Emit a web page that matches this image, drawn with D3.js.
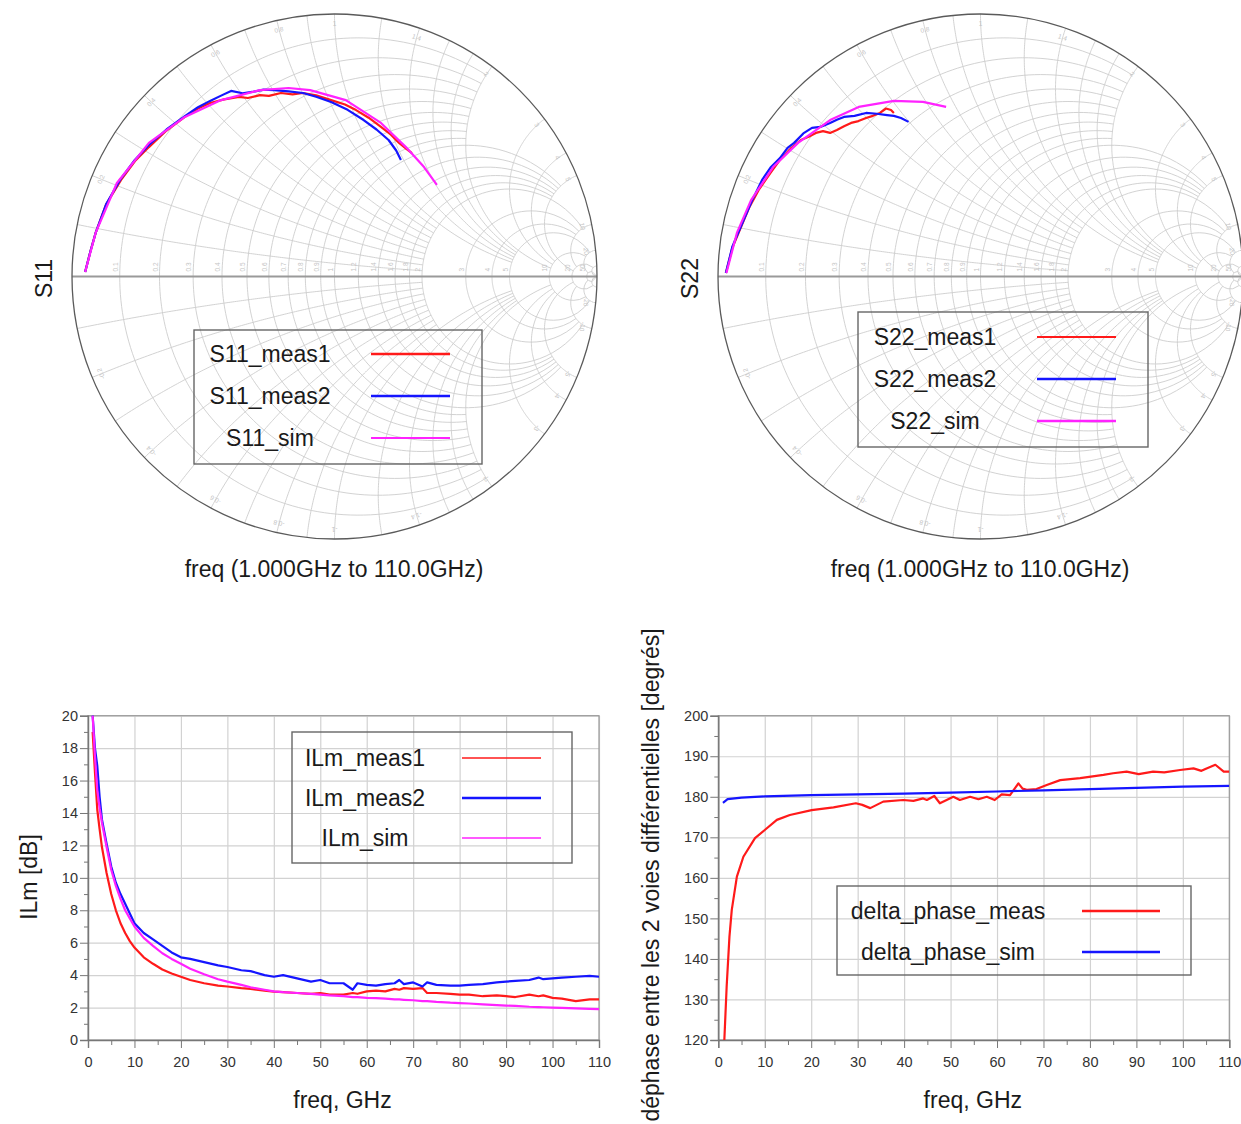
<!DOCTYPE html>
<html><head><meta charset="utf-8">
<script src="https://cdnjs.cloudflare.com/ajax/libs/d3/7.8.5/d3.min.js"></script>
<style>
body{margin:0;background:#fff}
text{font-family:"Liberation Sans",Arial,sans-serif}
</style></head>
<body><svg id="c" width="1241" height="1124"></svg>
<script>
// ---------------- DATA ----------------
// S11 (reflection coefficient, real / imag)
const s11Meas1Re = [-0.950,-0.930,-0.910,-0.870,-0.813,-0.760,-0.707,-0.640,-0.570,-0.520,-0.474,-0.420,-0.364,-0.330,-0.284,-0.250,-0.204,-0.160,-0.120,-0.070,-0.013,0.040,0.082,0.130,0.177,0.215,0.246,0.275,0.295];
const s11Meas1Im = [0.017,0.095,0.166,0.275,0.368,0.440,0.493,0.556,0.608,0.640,0.661,0.675,0.684,0.680,0.691,0.688,0.699,0.694,0.699,0.690,0.672,0.655,0.634,0.605,0.570,0.540,0.509,0.485,0.470];
const s11Meas2Re = [-0.950,-0.930,-0.910,-0.870,-0.817,-0.760,-0.707,-0.640,-0.570,-0.520,-0.474,-0.430,-0.394,-0.350,-0.314,-0.270,-0.230,-0.175,-0.120,-0.070,-0.013,0.050,0.111,0.160,0.206,0.235,0.253];
const s11Meas2Im = [0.017,0.095,0.166,0.275,0.368,0.445,0.501,0.560,0.611,0.645,0.669,0.690,0.707,0.698,0.703,0.712,0.710,0.705,0.699,0.685,0.665,0.635,0.596,0.560,0.520,0.480,0.444];
const s11SimRe = [-0.950,-0.910,-0.829,-0.707,-0.570,-0.432,-0.284,-0.175,-0.093,0.043,0.177,0.272,0.341,0.390];
const s11SimIm = [0.017,0.166,0.356,0.509,0.608,0.672,0.710,0.718,0.710,0.672,0.585,0.493,0.417,0.349];

// S22
const s22Meas1Re = [-0.970,-0.945,-0.912,-0.880,-0.845,-0.800,-0.764,-0.720,-0.684,-0.655,-0.627,-0.600,-0.573,-0.547,-0.520,-0.493,-0.465,-0.436,-0.410,-0.383,-0.360,-0.341,-0.330];
const s22Meas1Im = [0.013,0.110,0.189,0.265,0.330,0.395,0.444,0.490,0.520,0.532,0.547,0.554,0.547,0.558,0.572,0.585,0.592,0.604,0.612,0.623,0.640,0.634,0.623];
const s22Meas2Re = [-0.970,-0.945,-0.912,-0.870,-0.832,-0.800,-0.764,-0.735,-0.710,-0.675,-0.642,-0.610,-0.573,-0.545,-0.520,-0.480,-0.436,-0.395,-0.356,-0.330,-0.303,-0.274];
const s22Meas2Im = [0.013,0.115,0.192,0.290,0.368,0.415,0.451,0.490,0.509,0.545,0.566,0.570,0.585,0.598,0.608,0.612,0.623,0.620,0.615,0.612,0.604,0.589];
const s22SimRe = [-0.968,-0.928,-0.874,-0.790,-0.695,-0.573,-0.464,-0.330,-0.219,-0.131];
const s22SimIm = [0.013,0.166,0.291,0.417,0.509,0.596,0.646,0.669,0.665,0.646];

// ILm [dB] vs freq [GHz]
const ilmFreq  = [1,1.5,2,2.5,3,4,5,6,7,8,9,10,12,14,16,18,20,22,25,28,30,33,35,38,40,42,45,48,50,52,55,57,58,60,62,64,66,67,68,70,72,73,75,78,80,82,85,88,90,92,95,97,98,100,102,105,108,110];
const ilmMeas1 = [19.0,16.5,14.2,13.0,11.9,10.3,9.0,8.0,7.2,6.6,6.1,5.7,5.1,4.7,4.35,4.1,3.9,3.7,3.5,3.35,3.3,3.2,3.15,3.05,2.98,2.95,2.9,2.85,2.9,2.8,2.8,2.9,2.85,3.0,3.05,3.0,3.15,3.1,3.2,3.15,3.2,2.9,2.9,2.85,2.8,2.8,2.7,2.75,2.7,2.65,2.8,2.7,2.75,2.6,2.55,2.4,2.5,2.5];
const ilmMeas2 = [20.0,18.0,16.9,15.0,13.6,12.1,10.7,9.7,9.0,8.4,7.8,7.2,6.6,6.2,5.8,5.4,5.1,5.0,4.8,4.6,4.5,4.3,4.25,4.0,3.9,4.0,3.8,3.6,3.7,3.5,3.5,3.1,3.5,3.4,3.35,3.45,3.5,3.7,3.45,3.55,3.3,3.55,3.4,3.35,3.35,3.4,3.45,3.55,3.6,3.65,3.7,3.85,3.75,3.8,3.85,3.9,3.95,3.9];
const ilmSim   = [20.0,17.5,15.4,14.3,13.4,11.9,10.5,9.5,8.7,8.0,7.5,7.0,6.3,5.8,5.35,5.0,4.7,4.4,4.05,3.75,3.6,3.4,3.25,3.1,3.0,2.95,2.9,2.85,2.8,2.75,2.7,2.65,2.65,2.6,2.58,2.55,2.5,2.5,2.48,2.45,2.4,2.4,2.35,2.3,2.28,2.25,2.2,2.15,2.12,2.1,2.05,2.03,2.02,2.0,1.98,1.95,1.92,1.9];

// delta phase [deg] vs freq [GHz]
const phMeasFreq = [1.0,1.3,1.8,2.4,2.9,4.0,5.4,7.9,10.0,12.6,15.4,20.1,24.8,29.6,31.0,32.7,35.5,39.8,42.0,44.1,44.9,46.5,47.7,50.6,52.0,54.2,56.0,57.8,59.5,61.0,62.8,64.6,65.5,66.4,68.5,70.7,73.6,77.9,82.9,85.0,87.9,90.5,93.6,96.0,99.4,102.3,104.0,105.1,107.0,108.8,110];
const phMeas     = [112,120,133.2,145.5,152.1,160.3,165.2,169.8,171.8,174.3,175.5,176.7,177.4,178.4,178.0,177.2,178.8,179.2,179.0,179.6,179.2,180.2,178.4,180.0,179.2,180.0,179.4,180.0,179.2,180.6,180.4,183.3,182.0,181.7,181.9,182.9,184.1,184.6,185.4,185.8,186.2,185.6,186.2,186.0,186.6,187.0,186.4,187.0,187.9,186.2,186.2];
const phSimFreq  = [1,2,5,10,20,30,40,50,60,70,80,90,100,110];
const phSim      = [178.5,179.4,179.8,180.1,180.4,180.6,180.8,181.0,181.3,181.6,181.9,182.2,182.5,182.7];

const ilmTicksY = [0,2,4,6,8,10,12,14,16,18,20];
const phTicksY  = [120,130,140,150,160,170,180,190,200];
const freqTicks = [0,10,20,30,40,50,60,70,80,90,100,110];

const RED = "#ff1a1a", BLUE = "#1515ff", MAG = "#ff22ff";
const FS = 23;

// ---------------- DRAW ----------------
const svg = d3.select("#c");
let clipId = 0;

function smith(cx, cy, R, title, series, leg, freqLabelX) {
  const g = svg.append("g");
  const gx = d3.scaleLinear().domain([-1,1]).range([cx-R, cx+R]);
  const gy = d3.scaleLinear().domain([-1,1]).range([cy+R, cy-R]);
  const id = "sc" + (clipId++);
  g.append("clipPath").attr("id", id).append("circle").attr("cx", cx).attr("cy", cy).attr("r", R);
  const grid = g.append("g").attr("clip-path", `url(#${id})`);
  const line = d3.line().x(d => gx(d[0])).y(d => gy(d[1]));
  const gam = (r, x) => { const den = (r+1)*(r+1) + x*x; return [(r*r + x*x - 1)/den, 2*x/den]; };
  const rSpec = [[0.1,2],[0.2,2],[0.3,2],[0.4,2],[0.5,2],[0.6,2],[0.7,2],[0.8,2],[0.9,2],[1,5],
                 [1.2,5],[1.4,5],[1.6,5],[1.8,5],[2,10],[3,10],[4,10],[5,20],[10,20],[20,50],[50,Infinity]];
  const n = 160;
  rSpec.forEach(([r, xmax]) => {
    const t0 = Math.atan(xmax);
    const pts = d3.range(n+1).map(i => gam(r, Math.tan(-t0 + 2*t0*i/n)));
    grid.append("path").attr("d", line(pts)).attr("fill","none").attr("stroke","#cdcdcd").attr("stroke-width",0.9);
  });
  rSpec.forEach(([x, rmax]) => {
    const t0 = Math.min(Math.atan(rmax), Math.PI/2 - 1e-6);
    [1,-1].forEach(s => {
      const pts = d3.range(n+1).map(i => gam(Math.tan(t0*i/n), s*x));
      grid.append("path").attr("d", line(pts)).attr("fill","none").attr("stroke","#cdcdcd").attr("stroke-width",0.9);
    });
  });
  // faint labels
  const lab = g.append("g").attr("fill","#c4c4c4").attr("font-size",6.5);
  rSpec.forEach(([r]) => {
    const p = gam(r, 0);
    lab.append("text").attr("transform", `translate(${gx(p[0])-2},${cy-5}) rotate(-90)`).text(r);
  });
  [0.2,0.4,0.6,0.8,1,1.4,2,3,4,5,10,20].forEach(x => {
    [1,-1].forEach(s => {
      const p = gam(0, s*x);
      const a = Math.atan2(p[1], p[0]);
      const px = gx(0.955*Math.cos(a)), py = gy(0.955*Math.sin(a));
      lab.append("text").attr("transform", `translate(${px},${py}) rotate(${-a*180/Math.PI + 90})`)
        .attr("text-anchor","middle").text(s < 0 ? "-" + x : x);
    });
  });
  // real axis and border
  g.append("line").attr("x1", cx-R).attr("x2", cx+R).attr("y1", cy).attr("y2", cy)
    .attr("stroke","#9a9a9a").attr("stroke-width",2);
  g.append("circle").attr("cx", cx).attr("cy", cy).attr("r", R).attr("fill","none")
    .attr("stroke","#5a5a5a").attr("stroke-width",1.3);
  // traces
  const tr = g.append("g").attr("clip-path", `url(#${id})`);
  series.forEach(s => {
    const pts = s.re.map((v,i) => [v, s.im[i]]);
    tr.append("path").attr("d", line(pts)).attr("fill","none").attr("stroke", s.color)
      .attr("stroke-width", s.w).attr("stroke-linejoin","round");
  });
  // legend
  const lg = g.append("g");
  lg.append("rect").attr("x", leg.x).attr("y", leg.y).attr("width", leg.w).attr("height", leg.h)
    .attr("fill","none").attr("stroke","#666").attr("stroke-width",1.4);
  series.forEach((s,i) => {
    const yy = leg.y + leg.y0 + i*leg.dy;
    lg.append("text").attr("x", leg.tx).attr("y", yy + 8).attr("text-anchor","middle")
      .attr("font-size",FS).attr("fill","#1a1a1a").text(s.name);
    lg.append("line").attr("x1", leg.lx1).attr("x2", leg.lx2).attr("y1", yy).attr("y2", yy)
      .attr("stroke", s.color).attr("stroke-width", s.lw);
  });
  svg.append("text").attr("transform", `translate(${cx-R-20},${cy+2}) rotate(-90)`).attr("text-anchor","middle")
    .attr("font-size",FS).attr("fill","#1a1a1a").text(title);
  svg.append("text").attr("x", freqLabelX).attr("y", 577).attr("text-anchor","middle")
    .attr("font-size",FS).attr("fill","#1a1a1a").text("freq (1.000GHz to 110.0GHz)");
}

smith(334.5, 276.5, 262.5, "S11", [
  {name:"S11_meas1", re:s11Meas1Re, im:s11Meas1Im, color:RED, w:2.2, lw:2.5},
  {name:"S11_meas2", re:s11Meas2Re, im:s11Meas2Im, color:BLUE, w:2.2, lw:2.5},
  {name:"S11_sim", re:s11SimRe, im:s11SimIm, color:MAG, w:2.2, lw:2}
], {x:194, y:330, w:288, h:134, y0:24, dy:42, tx:270, lx1:371, lx2:450}, 334);

smith(980.5, 276.5, 262.5, "S22", [
  {name:"S22_meas1", re:s22Meas1Re, im:s22Meas1Im, color:RED, w:2.2, lw:2},
  {name:"S22_meas2", re:s22Meas2Re, im:s22Meas2Im, color:BLUE, w:2.2, lw:2.5},
  {name:"S22_sim", re:s22SimRe, im:s22SimIm, color:MAG, w:2.2, lw:2.5}
], {x:858, y:312, w:290, h:135, y0:25, dy:42, tx:935, lx1:1037, lx2:1116}, 980);

function xyPlot(cfg) {
  const g = svg.append("g");
  const x = d3.scaleLinear().domain([0,110]).range([cfg.x0, cfg.x1]);
  const y = d3.scaleLinear().domain(cfg.yDom).range([cfg.y0, cfg.y1]);
  const W = cfg.x1 - cfg.x0, H = cfg.y0 - cfg.y1;
  // grid
  g.append("g").attr("transform", `translate(0,${cfg.y0})`)
    .call(d3.axisBottom(x).tickValues(freqTicks).tickSize(-H).tickFormat(""))
    .call(a => { a.select(".domain").remove(); a.selectAll("line").attr("stroke","#d2d2d2").attr("stroke-width",1.2); });
  g.append("g").attr("transform", `translate(${cfg.x0},0)`)
    .call(d3.axisLeft(y).tickValues(cfg.yTicks).tickSize(-W).tickFormat(""))
    .call(a => { a.select(".domain").remove(); a.selectAll("line").attr("stroke","#d2d2d2").attr("stroke-width",1.2); });
  // frame
  g.append("rect").attr("x", cfg.x0).attr("y", cfg.y1).attr("width", W).attr("height", H)
    .attr("fill","none").attr("stroke","#9a9a9a").attr("stroke-width",1.2);
  // minor ticks
  const minX = freqTicks.slice(0,-1).map(v => v + 5);
  g.append("g").attr("transform", `translate(0,${cfg.y0})`)
    .call(d3.axisBottom(x).tickValues(minX).tickSize(5).tickFormat(""))
    .call(a => { a.select(".domain").remove(); a.selectAll("line").attr("stroke","#777"); });
  const minY = cfg.yTicks.slice(0,-1).map((v,i) => (v + cfg.yTicks[i+1]) / 2);
  g.append("g").attr("transform", `translate(${cfg.x0},0)`)
    .call(d3.axisLeft(y).tickValues(minY).tickSize(4).tickFormat(""))
    .call(a => { a.select(".domain").remove(); a.selectAll("line").attr("stroke","#777"); });
  // major axes
  g.append("g").attr("transform", `translate(0,${cfg.y0})`)
    .call(d3.axisBottom(x).tickValues(freqTicks).tickSize(8).tickPadding(9).tickFormat(d3.format("d")))
    .call(a => { a.select(".domain").attr("stroke","#777").attr("stroke-width",1.4);
                 a.selectAll("line").attr("stroke","#777");
                 a.selectAll("text").attr("font-size",14.5).attr("fill","#333").attr("font-family","Liberation Sans, Arial"); });
  g.append("g").attr("transform", `translate(${cfg.x0},0)`)
    .call(d3.axisLeft(y).tickValues(cfg.yTicks).tickSize(8).tickPadding(2).tickFormat(d3.format("d")))
    .call(a => { a.select(".domain").attr("stroke","#777").attr("stroke-width",1.4);
                 a.selectAll("line").attr("stroke","#777");
                 a.selectAll("text").attr("font-size",14.5).attr("fill","#333").attr("font-family","Liberation Sans, Arial"); });
  // data
  const id = "pc" + (clipId++);
  g.append("clipPath").attr("id", id).append("rect").attr("x", cfg.x0).attr("y", cfg.y1 - 1).attr("width", W).attr("height", H + 1);
  const dl = g.append("g").attr("clip-path", `url(#${id})`);
  cfg.series.forEach(s => {
    const ln = d3.line().x((d,i) => x(s.f[i])).y(d => y(d));
    dl.append("path").attr("d", ln(s.v)).attr("fill","none").attr("stroke", s.color)
      .attr("stroke-width", s.w).attr("stroke-linejoin","round");
  });
  // legend
  const L = cfg.leg;
  g.append("rect").attr("x", L.x).attr("y", L.y).attr("width", L.w).attr("height", L.h)
    .attr("fill","none").attr("stroke","#666").attr("stroke-width",1.4);
  cfg.series.forEach((s,i) => {
    const yy = L.y + L.y0 + i*L.dy;
    g.append("text").attr("x", L.tx).attr("y", yy + 8).attr("text-anchor","middle")
      .attr("font-size",FS).attr("fill","#1a1a1a").text(s.name);
    g.append("line").attr("x1", L.lx1).attr("x2", L.lx2).attr("y1", yy).attr("y2", yy)
      .attr("stroke", s.color).attr("stroke-width", s.lw);
  });
  // labels
  svg.append("text").attr("x", (cfg.x0 + cfg.x1)/2 - 1).attr("y", 1108).attr("text-anchor","middle")
    .attr("font-size",FS).attr("fill","#1a1a1a").text("freq, GHz");
  svg.append("text").attr("transform", `translate(${cfg.yLabX},${cfg.yLabY}) rotate(-90)`).attr("text-anchor","middle")
    .attr("font-size",FS).attr("fill","#1a1a1a").text(cfg.yLabel);
}

xyPlot({
  x0:88, x1:599, y0:1040, y1:715.7, yDom:[0,20], yTicks:ilmTicksY,
  yLabel:"ILm [dB]", yLabX:37, yLabY:877,
  series:[
    {name:"ILm_meas1", f:ilmFreq, v:ilmMeas1, color:RED, w:2.2, lw:1.6},
    {name:"ILm_meas2", f:ilmFreq, v:ilmMeas2, color:BLUE, w:2.2, lw:2.6},
    {name:"ILm_sim", f:ilmFreq, v:ilmSim, color:MAG, w:2.2, lw:1.6}
  ],
  leg:{x:292, y:732, w:280, h:131, y0:26, dy:40, tx:365, lx1:462, lx2:541}
});

xyPlot({
  x0:718.3, x1:1229.3, y0:1040, y1:715.7, yDom:[120,200], yTicks:phTicksY,
  yLabel:"déphase entre les 2 voies différentielles [degrés]", yLabX:659, yLabY:875,
  series:[
    {name:"delta_phase_meas", f:phMeasFreq, v:phMeas, color:RED, w:2.2, lw:2.5},
    {name:"delta_phase_sim", f:phSimFreq, v:phSim, color:BLUE, w:2.2, lw:2.5}
  ],
  leg:{x:837, y:886, w:354, h:89, y0:25, dy:41, tx:948, lx1:1082, lx2:1160}
});
</script></body></html>
